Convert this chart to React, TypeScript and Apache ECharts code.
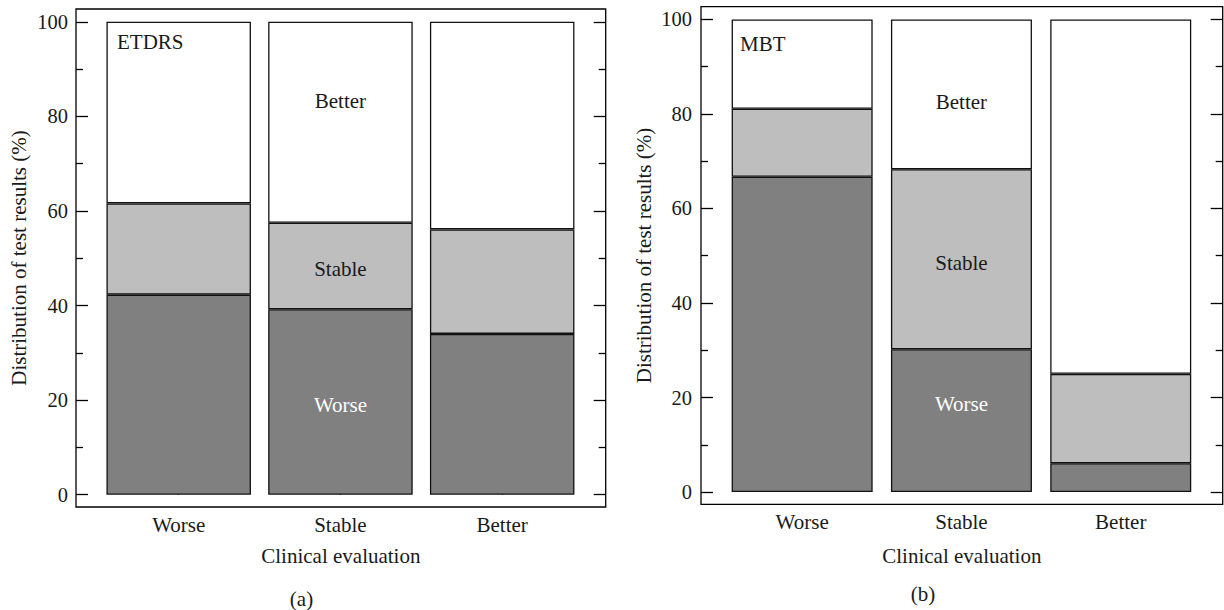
import React, { useEffect, useRef } from "react";
import * as echarts from "echarts";

const categories = ["Worse", "Stable", "Better"];
const categoryPositions = [1, 2, 3];

const etdrsWorse = [42.3, 39.2, 34.0];
const etdrsStable = [19.3, 18.3, 22.1];
const etdrsBetter = [38.4, 42.5, 43.9];

const mbtWorse = [66.7, 30.2, 6.1];
const mbtStable = [14.4, 38.1, 18.9];
const mbtBetter = [18.9, 31.7, 75.0];

const yMajorTicks = [0, 20, 40, 60, 80, 100];
const yMinorTicks = [10, 30, 50, 70, 90];

const segmentNames = ["Better", "Stable", "Worse"];
const etdrsLabelY = [83.3, 47.7, 19.0];
const mbtLabelY = [82.6, 48.4, 18.6];

const FONT = "Liberation Serif, Times New Roman, serif";
const TXT = "#1a1a1a";
const FS = 21;
const FS_NUM = 20.5;

export default function App() {
  const ref = useRef<HTMLDivElement>(null);

  useEffect(() => {
    document.body.style.margin = "0";
    const chart = echarts.init(ref.current!, null, { renderer: "svg" });

    const grids = [
      { left: 76, top: 9, width: 529.7, height: 498 },
      { left: 701, top: 6.7, width: 521.7, height: 497.6 },
    ];

    const xAxes = grids.map((_, gi) => ({
      type: "value",
      gridIndex: gi,
      min: 0.365,
      max: 3.64,
      axisLine: { show: false },
      splitLine: { show: false },
      axisTick: {
        show: true,
        inside: true,
        length: 10,
        customValues: categoryPositions,
        lineStyle: { color: "#000", width: 1.3 },
      },
      axisLabel: {
        show: true,
        customValues: categoryPositions,
        formatter: (v: number) => categories[Math.round(v) - 1] ?? "",
        fontFamily: FONT,
        fontSize: FS,
        color: TXT,
        margin: 7,
      },
      name: "Clinical evaluation",
      nameLocation: "middle",
      nameGap: gi === 0 ? 38 : 41,
      nameTextStyle: { fontFamily: FONT, fontSize: FS, color: TXT },
    }));

    const yAxes: any[] = [];
    grids.forEach((_, gi) => {
      const base = {
        type: "value",
        gridIndex: gi,
        min: -2.6,
        max: 102.7,
        axisLine: { show: false },
        splitLine: { show: false },
      };
      yAxes.push({
        ...base,
        position: "left",
        axisTick: {
          show: true,
          inside: true,
          length: 12,
          customValues: yMajorTicks,
          lineStyle: { color: "#000", width: 1.3 },
        },
        axisLabel: {
          show: true,
          customValues: yMajorTicks,
          fontFamily: FONT,
          fontSize: FS_NUM,
          color: TXT,
          margin: gi === 0 ? 8 : 9,
        },
        name: "Distribution of test results (%)",
        nameLocation: "middle",
        nameGap: 47,
        nameTextStyle: { fontFamily: FONT, fontSize: FS, color: TXT },
      });
      yAxes.push({
        ...base,
        position: "left",
        axisTick: {
          show: true,
          inside: true,
          length: 7,
          customValues: yMinorTicks,
          lineStyle: { color: "#000", width: 1.3 },
        },
        axisLabel: { show: false },
      });
      yAxes.push({
        ...base,
        position: "right",
        axisTick: {
          show: true,
          inside: true,
          length: 12,
          customValues: yMajorTicks,
          lineStyle: { color: "#000", width: 1.3 },
        },
        axisLabel: { show: false },
      });
      yAxes.push({
        ...base,
        position: "right",
        axisTick: {
          show: true,
          inside: true,
          length: 7,
          customValues: yMinorTicks,
          lineStyle: { color: "#000", width: 1.3 },
        },
        axisLabel: { show: false },
      });
    });

    // data columns: [value, position] so that the value column is the stacked one
    const barSeries = (
      gi: number,
      stack: string,
      values: number[],
      color: string,
      width: number
    ) => ({
      type: "bar",
      xAxisIndex: gi,
      yAxisIndex: gi * 4,
      stack,
      barWidth: width,
      encode: { x: 1, y: 0 },
      data: values.map((v, i) => [v, categoryPositions[i]]),
      itemStyle: { color, borderColor: "#111", borderWidth: 1.3 },
      emphasis: { disabled: true },
      silent: true,
    });

    const labelSeries = (gi: number, ys: number[]) => ({
      type: "scatter",
      xAxisIndex: gi,
      yAxisIndex: gi * 4,
      symbol: "circle",
      symbolSize: 1,
      itemStyle: { color: "rgba(0,0,0,0)", opacity: 1 },
      silent: true,
      data: segmentNames.map((name, i) => ({
        name,
        value: [categoryPositions[1], ys[i]],
        label: {
          color: name === "Worse" ? "#ffffff" : TXT,
          fontFamily: FONT,
          fontSize: FS,
        },
      })),
      label: {
        show: true,
        position: "inside",
        formatter: "{b}",
        fontFamily: FONT,
        fontSize: FS,
        textBorderWidth: 0,
      },
      z: 10,
    });

    const textStyle = (text: string) => ({
      text,
      fontFamily: FONT,
      fontSize: FS,
      fill: TXT,
    });

    chart.setOption({
      animation: false,
      backgroundColor: "#ffffff",
      grid: grids.map((g) => ({
        ...g,
        show: true,
        borderColor: "#000",
        borderWidth: 1.3,
        backgroundColor: "rgba(0,0,0,0)",
        containLabel: false,
      })),
      xAxis: xAxes,
      yAxis: yAxes,
      series: [
        barSeries(0, "etdrs", etdrsWorse, "#808080", 144.5),
        barSeries(0, "etdrs", etdrsStable, "#bebebe", 144.5),
        barSeries(0, "etdrs", etdrsBetter, "#ffffff", 144.5),
        barSeries(1, "mbt", mbtWorse, "#808080", 141),
        barSeries(1, "mbt", mbtStable, "#bebebe", 141),
        barSeries(1, "mbt", mbtBetter, "#ffffff", 141),
        labelSeries(0, etdrsLabelY),
        labelSeries(1, mbtLabelY),
      ],
      graphic: [
        {
          type: "text",
          x: 117,
          y: 41.7,
          style: { ...textStyle("ETDRS"), textAlign: "left", textVerticalAlign: "middle" },
          z: 20,
        },
        {
          type: "text",
          x: 740,
          y: 43.5,
          style: { ...textStyle("MBT"), textAlign: "left", textVerticalAlign: "middle" },
          z: 20,
        },
        {
          type: "text",
          x: 301.5,
          y: 599,
          style: { ...textStyle("(a)"), textAlign: "center", textVerticalAlign: "middle" },
        },
        {
          type: "text",
          x: 923,
          y: 594,
          style: { ...textStyle("(b)"), textAlign: "center", textVerticalAlign: "middle" },
        },
      ],
    });

    return () => chart.dispose();
  }, []);

  return <div ref={ref} style={{ width: 1224, height: 610 }} />;
}
